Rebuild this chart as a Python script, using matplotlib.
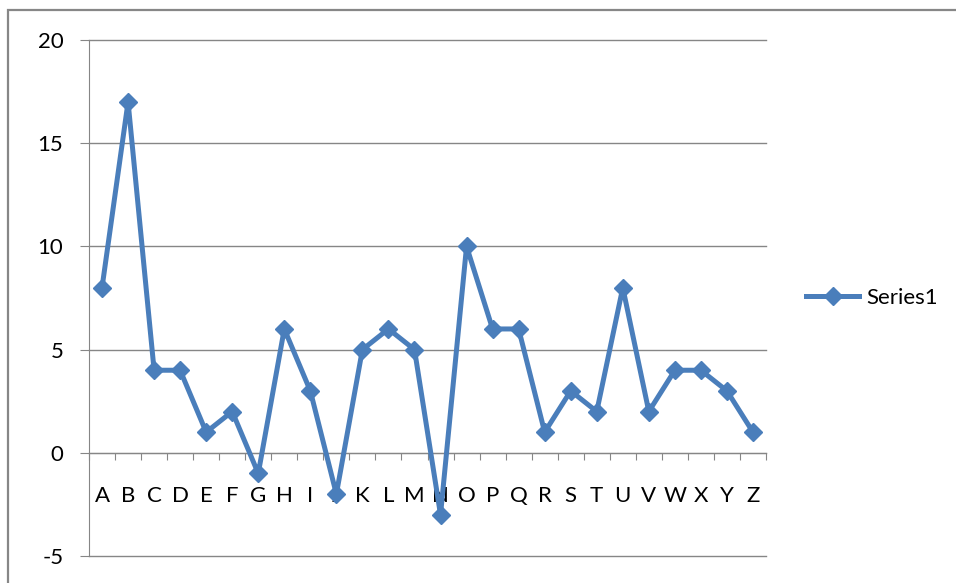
import matplotlib.pyplot as plt
from matplotlib.patches import Rectangle
from matplotlib.ticker import FixedLocator

plt.rcParams['font.family'] = ['Lato', 'DejaVu Sans']
plt.rcParams['axes.unicode_minus'] = False

categories = list("ABCDEFGHIJKLMNOPQRSTUVWXYZ")
series1 = [8, 17, 4, 4, 1, 2, -1, 6, 3, -2, 5, 6, 5, -3, 10, 6, 6, 1, 3, 2, 8, 2, 4, 4, 3, 1]
yticks = [-5, 0, 5, 10, 15, 20]

W, H = 956, 583
fig = plt.figure(figsize=(W / 100, H / 100), dpi=100)
ax = fig.add_axes([89 / W, 1 - 556 / H, (766 - 89) / W, (556 - 40) / H])

grid_col = '#868686'
blue = '#4A7EBB'

x = range(len(categories))
ax.plot(x, series1, color=blue, lw=3.6, marker='D', ms=9.5,
        markerfacecolor=blue, markeredgecolor=blue, label='Series1', zorder=3)

ax.set_xlim(-0.5, len(categories) - 0.5)
ax.set_ylim(-5, 20)
ax.set_yticks(yticks)
ax.yaxis.grid(True, color=grid_col, lw=1.0)
ax.set_axisbelow(True)
for gl in ax.get_ygridlines():
    gl.set_clip_on(False)

# category axis sits at y = 0, ticks between categories, labels under each
for s in ['top', 'right']:
    ax.spines[s].set_visible(False)
ax.spines['bottom'].set_position(('data', 0))
ax.spines['bottom'].set_color(grid_col)
ax.spines['left'].set_color(grid_col)
ax.xaxis.set_major_locator(FixedLocator([i + 0.5 for i in range(-1, len(categories))]))
ax.xaxis.set_major_formatter(plt.NullFormatter())
ax.set_xticks(list(x), categories, minor=True)
ax.tick_params(axis='x', which='major', direction='out', length=5, color=grid_col)
ax.tick_params(axis='x', which='minor', length=0, pad=24, labelsize=16)
ax.tick_params(axis='y', direction='out', length=6.5, color=grid_col, pad=12, labelsize=16)

ax.legend(loc='center left', bbox_to_anchor=(806 / W, 1 - 298 / H),
          bbox_transform=fig.transFigure, frameon=False, fontsize=16,
          borderpad=0, borderaxespad=0, handlelength=2.4, handletextpad=0.3)

# outer chart frame, clipped by the image on the right and bottom
fig.add_artist(Rectangle((8 / W, -0.1), 1.2, 1.1 - 10 / H, transform=fig.transFigure,
                         fill=False, edgecolor='#878787', lw=1.6))

fig.savefig('out.png', dpi=100)
